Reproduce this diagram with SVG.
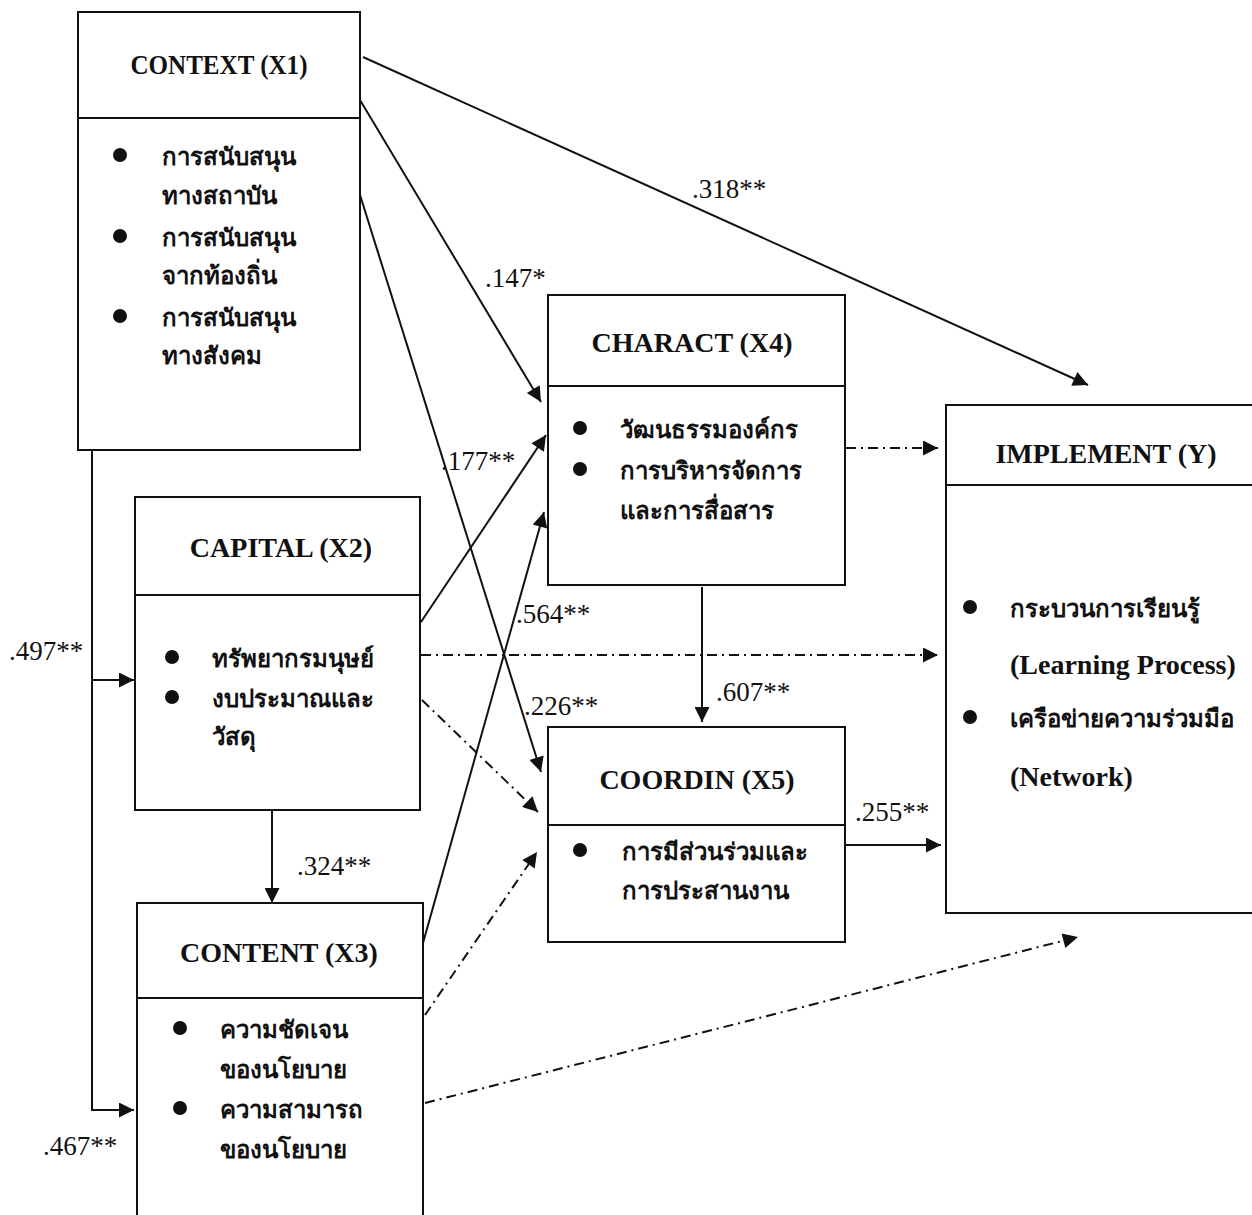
<svg xmlns="http://www.w3.org/2000/svg" width="1252" height="1215" viewBox="0 0 1252 1215">
<style>
.box{fill:#fff;stroke:#111;stroke-width:2}
.div{stroke:#111;stroke-width:2}
.title{font-family:"Liberation Serif",serif;font-weight:bold;font-size:28px;fill:#111;text-anchor:middle}
.th{font-family:"Liberation Serif","Noto Sans",sans-serif;font-weight:bold;font-size:24px;fill:#111}
.en{font-family:"Liberation Serif",serif;font-weight:bold;font-size:28px;fill:#111}
.lbl{font-family:"Liberation Serif",serif;font-size:27px;fill:#111}
.sol{fill:none;stroke:#111;stroke-width:2}
.dd{fill:none;stroke:#111;stroke-width:2;stroke-dasharray:10 5 2 5}
.dot{fill:#111}
</style>
<defs>
<marker id="ahb" viewBox="0 0 10 10" refX="10" refY="5" markerWidth="18" markerHeight="15" markerUnits="userSpaceOnUse" orient="auto">
<path d="M0,0 L10,5 L0,10 z" fill="#111"/>
</marker>
</defs>
<rect width="1252" height="1215" fill="#fff"/>

<g id="connectors">
<line class="sol" x1="363" y1="57" x2="1088" y2="385" marker-end="url(#ahb)"/>
<line class="sol" x1="360" y1="100" x2="541" y2="402" marker-end="url(#ahb)"/>
<line class="sol" x1="360" y1="195" x2="541" y2="772" marker-end="url(#ahb)"/>
<line class="sol" x1="421" y1="622" x2="546" y2="435" marker-end="url(#ahb)"/>
<line class="sol" x1="423" y1="943" x2="544" y2="512" marker-end="url(#ahb)"/>
<line class="sol" x1="702" y1="587" x2="702" y2="722" marker-end="url(#ahb)"/>
<line class="sol" x1="845" y1="845" x2="941" y2="845" marker-end="url(#ahb)"/>
<line class="sol" x1="272" y1="811" x2="272" y2="903" marker-end="url(#ahb)"/>
<polyline class="sol" points="92,451 92,1110 134,1110" marker-end="url(#ahb)"/>
<line class="sol" x1="92" y1="680" x2="134" y2="680" marker-end="url(#ahb)"/>
<line class="dd" x1="846" y1="448" x2="938" y2="448" marker-end="url(#ahb)"/>
<line class="dd" x1="421" y1="655" x2="938" y2="655" marker-end="url(#ahb)"/>
<line class="dd" x1="422" y1="700" x2="538" y2="812" marker-end="url(#ahb)"/>
<line class="dd" x1="425" y1="1015" x2="537" y2="852" marker-end="url(#ahb)"/>
<line class="dd" x1="425" y1="1103" x2="1078" y2="937" marker-end="url(#ahb)"/>
<text class="lbl" x="692" y="198">.318**</text>
<text class="lbl" x="485" y="287">.147*</text>
<text class="lbl" x="441" y="470">.177**</text>
<text class="lbl" x="516" y="623">.564**</text>
<text class="lbl" x="524" y="715">.226**</text>
<text class="lbl" x="716" y="701">.607**</text>
<text class="lbl" x="855" y="821">.255**</text>
<text class="lbl" x="9" y="660">.497**</text>
<text class="lbl" x="297" y="875">.324**</text>
<text class="lbl" x="43" y="1155">.467**</text>
</g>

<g id="x1">
<rect class="box" x="78" y="12" width="282" height="438"/>
<line class="div" x1="78" y1="118" x2="360" y2="118"/>
<text class="title" x="219" y="74" textLength="177" lengthAdjust="spacingAndGlyphs">CONTEXT (X1)</text>
<circle class="dot" cx="120" cy="155" r="7"/>
<circle class="dot" cx="120" cy="236" r="7"/>
<circle class="dot" cx="120" cy="316" r="7"/>
<text class="th" x="162" y="165">การสนับสนุน</text>
<text class="th" x="162" y="204">ทางสถาบัน</text>
<text class="th" x="162" y="246">การสนับสนุน</text>
<text class="th" x="162" y="284">จากท้องถิ่น</text>
<text class="th" x="162" y="326">การสนับสนุน</text>
<text class="th" x="162" y="364">ทางสังคม</text>
</g>

<g id="x2">
<rect class="box" x="135" y="497" width="285" height="313"/>
<line class="div" x1="135" y1="595" x2="420" y2="595"/>
<text class="title" x="281" y="557">CAPITAL (X2)</text>
<circle class="dot" cx="172" cy="657" r="7"/>
<circle class="dot" cx="172" cy="697" r="7"/>
<text class="th" x="212" y="667">ทรัพยากรมนุษย์</text>
<text class="th" x="212" y="707">งบประมาณและ</text>
<text class="th" x="212" y="745">วัสดุ</text>
</g>

<g id="x3">
<rect class="box" x="137" y="903" width="286" height="320"/>
<line class="div" x1="137" y1="998" x2="423" y2="998"/>
<text class="title" x="279" y="962">CONTENT (X3)</text>
<circle class="dot" cx="180" cy="1028" r="7"/>
<circle class="dot" cx="180" cy="1108" r="7"/>
<text class="th" x="220" y="1038">ความชัดเจน</text>
<text class="th" x="220" y="1078">ของนโยบาย</text>
<text class="th" x="220" y="1118">ความสามารถ</text>
<text class="th" x="220" y="1158">ของนโยบาย</text>
</g>

<g id="x4">
<rect class="box" x="548" y="295" width="297" height="290"/>
<line class="div" x1="548" y1="386" x2="845" y2="386"/>
<text class="title" x="692" y="352">CHARACT (X4)</text>
<circle class="dot" cx="580" cy="428" r="7"/>
<circle class="dot" cx="580" cy="469" r="7"/>
<text class="th" x="620" y="438">วัฒนธรรมองค์กร</text>
<text class="th" x="620" y="479">การบริหารจัดการ</text>
<text class="th" x="620" y="519">และการสื่อสาร</text>
</g>

<g id="x5">
<rect class="box" x="548" y="727" width="297" height="215"/>
<line class="div" x1="548" y1="825" x2="845" y2="825"/>
<text class="title" x="697" y="789">COORDIN (X5)</text>
<circle class="dot" cx="580" cy="850" r="7"/>
<text class="th" x="622" y="860">การมีส่วนร่วมและ</text>
<text class="th" x="622" y="899">การประสานงาน</text>
</g>

<g id="y">
<rect class="box" x="946" y="405" width="320" height="508"/>
<line class="div" x1="946" y1="485" x2="1266" y2="485"/>
<text class="title" x="1106" y="463">IMPLEMENT (Y)</text>
<circle class="dot" cx="970" cy="607" r="7"/>
<circle class="dot" cx="970" cy="717" r="7"/>
<text class="th" x="1010" y="617">กระบวนการเรียนรู้</text>
<text class="en" x="1010" y="674">(Learning Process)</text>
<text class="th" x="1010" y="727">เครือข่ายความร่วมมือ</text>
<text class="en" x="1010" y="786">(Network)</text>
</g>
</svg>
